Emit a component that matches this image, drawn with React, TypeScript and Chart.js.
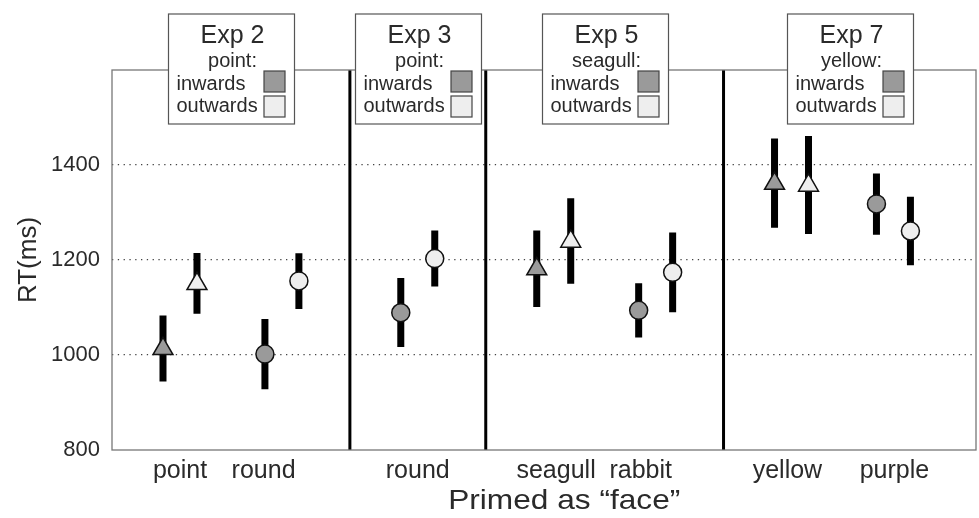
import React, { useEffect, useRef } from 'react';
import { Chart, registerables } from 'chart.js';

Chart.register(...registerables);

// ---------- data ----------
const categories = ['point', 'round', 'round', 'seagull', 'rabbit', 'yellow', 'purple'];
const categoryPos = [1, 2, 3.333, 4.667, 5.667, 7, 8];
const labelPos = [1, 1.82, 3.333, 4.69, 5.52, 6.96, 8.01];
const markerShapes = ['triangle', 'circle', 'circle', 'triangle', 'circle', 'triangle', 'circle'];

const inwardsMean = [1013, 1002, 1089, 1181, 1094, 1361, 1318];
const inwardsLo = [944, 928, 1017, 1101, 1037, 1268, 1253];
const inwardsHi = [1083, 1076, 1162, 1262, 1151, 1456, 1382];

const outwardsMean = [1150, 1156, 1203, 1239, 1174, 1357, 1261];
const outwardsLo = [1087, 1097, 1144, 1150, 1090, 1255, 1189];
const outwardsHi = [1215, 1214, 1262, 1330, 1258, 1461, 1333];

const separators = [2.667, 4, 6.333];
const yTicks = [800, 1000, 1200, 1400];

const expTitles = ['Exp 2', 'Exp 3', 'Exp 5', 'Exp 7'];
const primeLabels = ['point:', 'point:', 'seagull:', 'yellow:'];
const legendCenters = [1.5, 3.333, 5.167, 7.57];
const seriesNames = ['inwards', 'outwards'];

const xTitle = 'Primed as \u201cface\u201d';
const xTitleCenter = 4.77;

// ---------- style ----------
const DODGE = 1 / 6;
const FONT = '"Liberation Sans", Arial, sans-serif';
const INW_FILL = '#9a9a9a';
const OUT_FILL = '#eeeeee';
const TEXT = '#2a2a2a';

const markerRadius = (shape: string) => (shape === 'triangle' ? 11.5 : 9);

function barData(lo: number[], hi: number[], off: number) {
  const out: any[] = [];
  categoryPos.forEach((p, i) => {
    out.push({ x: p + off, y: lo[i] });
    out.push({ x: p + off, y: hi[i] });
    out.push({ x: p + off, y: null });
  });
  return out;
}

function markerData(mean: number[], off: number) {
  return categoryPos.map((p, i) => ({ x: p + off, y: mean[i] }));
}

const framePlugin = {
  id: 'frameSep',
  beforeDatasetsDraw(chart: any) {
    const { ctx, chartArea } = chart;
    const xs = chart.scales.x;
    ctx.save();
    ctx.strokeStyle = '#000';
    ctx.lineWidth = 3;
    separators.forEach((s) => {
      const px = xs.getPixelForValue(s);
      ctx.beginPath();
      ctx.moveTo(px, chartArea.top);
      ctx.lineTo(px, chartArea.bottom);
      ctx.stroke();
    });
    ctx.strokeStyle = '#777';
    ctx.lineWidth = 1.3;
    ctx.strokeRect(chartArea.left, chartArea.top, chartArea.right - chartArea.left, chartArea.bottom - chartArea.top);
    ctx.restore();
  },
};

const legendBoxPlugin = {
  id: 'legendBoxes',
  afterDraw(chart: any) {
    const { ctx, chartArea } = chart;
    const xs = chart.scales.x;
    const W = 126;
    const H = 110;
    const top = chartArea.top - 56;
    ctx.save();
    legendCenters.forEach((c, i) => {
      const cx = xs.getPixelForValue(c);
      const left = Math.round(cx - W / 2) + 0.5;
      ctx.fillStyle = '#fff';
      ctx.fillRect(left, top, W, H);
      ctx.strokeStyle = '#555';
      ctx.lineWidth = 1.2;
      ctx.strokeRect(left, top, W, H);

      ctx.fillStyle = TEXT;
      ctx.textAlign = 'center';
      ctx.textBaseline = 'alphabetic';
      ctx.font = `25px ${FONT}`;
      ctx.fillText(expTitles[i], left + 64, top + 29);
      ctx.font = `20px ${FONT}`;
      ctx.fillText(primeLabels[i], left + 64, top + 53);
      ctx.textAlign = 'left';
      ctx.fillText(seriesNames[0], left + 8, top + 76);
      ctx.fillText(seriesNames[1], left + 8, top + 98);

      const fills = [INW_FILL, OUT_FILL];
      [0, 1].forEach((k) => {
        const sy = top + 57 + k * 25;
        ctx.fillStyle = fills[k];
        ctx.fillRect(left + 95.5, sy, 21, 21);
        ctx.strokeStyle = '#444';
        ctx.lineWidth = 1.2;
        ctx.strokeRect(left + 95.5, sy, 21, 21);
      });
    });
    ctx.restore();

    // x-axis title (slightly wide lettering, as in the reference)
    ctx.save();
    const tx = xs.getPixelForValue(xTitleCenter);
    const ty = chartArea.bottom + 51;
    ctx.translate(tx, ty);
    ctx.scale(1.13, 1);
    ctx.fillStyle = TEXT;
    ctx.font = `28px ${FONT}`;
    ctx.textAlign = 'center';
    ctx.textBaseline = 'middle';
    ctx.fillText(xTitle, 0, 0);
    ctx.restore();
  },
};

export default function App() {
  const ref = useRef<HTMLCanvasElement | null>(null);

  useEffect(() => {
    if (!ref.current) return;
    const chart = new Chart(ref.current, {
      type: 'scatter',
      data: {
        datasets: [
          {
            label: seriesNames[0],
            data: markerData(inwardsMean, -DODGE),
            pointStyle: markerShapes as any,
            pointRadius: markerShapes.map(markerRadius),
            backgroundColor: INW_FILL,
            borderColor: '#111',
            borderWidth: 1.5,
          } as any,
          {
            label: seriesNames[1],
            data: markerData(outwardsMean, DODGE),
            pointStyle: markerShapes as any,
            pointRadius: markerShapes.map(markerRadius),
            backgroundColor: OUT_FILL,
            borderColor: '#111',
            borderWidth: 1.5,
          } as any,
          {
            label: 'inwards CI',
            data: barData(inwardsLo, inwardsHi, -DODGE),
            showLine: true,
            spanGaps: false,
            pointRadius: 0,
            borderColor: '#000',
            borderWidth: 7,
            borderCapStyle: 'butt',
          } as any,
          {
            label: 'outwards CI',
            data: barData(outwardsLo, outwardsHi, DODGE),
            showLine: true,
            spanGaps: false,
            pointRadius: 0,
            borderColor: '#000',
            borderWidth: 7,
            borderCapStyle: 'butt',
          } as any,
        ],
      },
      options: {
        animation: false,
        responsive: false,
        devicePixelRatio: 1,
        layout: { autoPadding: false, padding: { top: 70, right: 3, left: 0, bottom: 0 } },
        plugins: {
          legend: { display: false },
          tooltip: { enabled: false },
        },
        scales: {
          x: {
            type: 'linear',
            min: 0.333,
            max: 8.81,
            afterBuildTicks: (s: any) => {
              s.ticks = labelPos.map((v) => ({ value: v }));
            },
            afterFit: (s: any) => {
              s.height = 68;
              s.paddingLeft = 0;
              s.paddingRight = 0;
            },
            grid: { display: false, drawTicks: false },
            border: { display: false },
            ticks: {
              autoSkip: false,
              maxRotation: 0,
              padding: 6,
              color: TEXT,
              font: { family: FONT, size: 25 },
              callback: (_v: any, i: number) => categories[i],
            },
            title: { display: false },
          },
          y: {
            min: 800,
            max: 1600,
            afterBuildTicks: (s: any) => {
              s.ticks = yTicks.map((v) => ({ value: v }));
            },
            afterFit: (s: any) => {
              s.width = 112;
            },
            grid: {
              drawTicks: false,
              color: (c: any) => (c.tick && c.tick.value === 800 ? 'rgba(0,0,0,0)' : '#444'),
              lineWidth: 1.3,
            },
            border: { display: false, dash: [1.3, 4.5] },
            ticks: {
              padding: 12,
              color: TEXT,
              font: { family: FONT, size: 22 },
              callback: (v: any) => String(v),
            },
            title: {
              display: true,
              text: 'RT(ms)',
              color: TEXT,
              font: { family: FONT, size: 26 },
              padding: { top: 13, bottom: 0 },
            },
          },
        },
      },
      plugins: [framePlugin, legendBoxPlugin],
    } as any);
    return () => chart.destroy();
  }, []);

  return (
    <div style={{ position: 'absolute', left: 0, top: 0, width: 979, height: 518, background: '#fff' }}>
      <canvas ref={ref} width={979} height={518} />
    </div>
  );
}
